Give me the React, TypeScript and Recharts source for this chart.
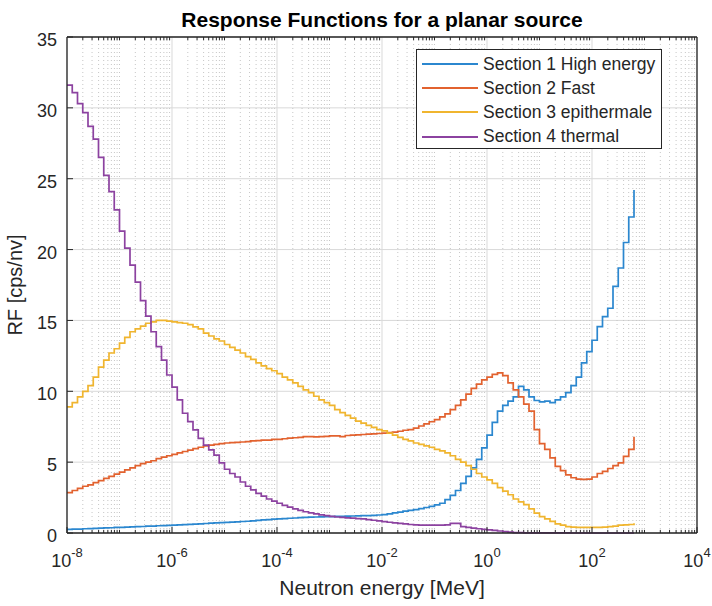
import React from 'react';
import { LineChart, Line, XAxis, YAxis, CartesianGrid, ReferenceLine, Legend } from 'recharts';

// Bin edges: regular log grid starting at 1e-8 MeV, 10 bins per decade
const FIRST_EDGE_EXP = -8;
const BINS_PER_DECADE = 10;

const section1HighEnergy = [
  0.25, 0.27, 0.28, 0.3, 0.31, 0.33, 0.34, 0.36, 0.37, 0.39, 0.4, 0.42, 0.43, 0.45, 0.46, 0.48, 0.49, 0.51, 0.52, 0.54,
  0.55, 0.57, 0.59, 0.61, 0.63, 0.65, 0.67, 0.69, 0.71, 0.73, 0.75, 0.77, 0.79, 0.81, 0.83, 0.86, 0.89, 0.92, 0.95, 0.98,
  1.0, 1.02, 1.04, 1.06, 1.08, 1.1, 1.12, 1.13, 1.14, 1.15, 1.16, 1.17, 1.18, 1.19, 1.2, 1.21, 1.22, 1.23, 1.25, 1.27,
  1.3, 1.35, 1.42, 1.48, 1.55, 1.6, 1.65, 1.72, 1.8, 1.88, 1.98, 2.1, 2.35, 2.65, 3.0, 3.5, 4.0, 4.6, 5.2, 6.0,
  6.9, 7.8, 8.6, 9.0, 9.3, 9.6, 10.35, 10.1, 9.6, 9.35, 9.25, 9.3, 9.2, 9.4, 9.6, 9.9, 10.4, 11.0, 12.0, 12.8,
  13.6, 14.56, 15.27, 15.86, 17.4, 18.7, 20.5, 22.3, 24.2,
];

const section2Fast = [
  2.85, 3.0, 3.15, 3.3, 3.4, 3.55, 3.7, 3.85, 4.0, 4.15, 4.3, 4.45, 4.6, 4.75, 4.9, 5.0, 5.1, 5.25, 5.35, 5.45,
  5.55, 5.65, 5.75, 5.85, 5.95, 6.05, 6.15, 6.2, 6.25, 6.3, 6.35, 6.38, 6.4, 6.42, 6.45, 6.5, 6.52, 6.55, 6.55, 6.6,
  6.6, 6.65, 6.7, 6.72, 6.75, 6.8, 6.8, 6.78, 6.8, 6.82, 6.85, 6.85, 6.8, 6.88, 6.9, 6.92, 6.95, 6.98, 7.0, 7.02,
  7.05, 7.08, 7.12, 7.18, 7.25, 7.3, 7.4, 7.55, 7.7, 7.85, 8.0, 8.2, 8.4, 8.7, 9.0, 9.4, 9.8, 10.2, 10.5, 10.8,
  11.0, 11.2, 11.3, 11.1, 10.6, 10.1, 9.6, 9.1, 8.6, 7.3, 6.3, 5.9, 5.3, 4.7, 4.4, 4.1, 3.9, 3.8, 3.78, 3.8,
  3.95, 4.2, 4.35, 4.55, 4.75, 4.95, 5.4, 5.9, 6.8,
];

const section3Epithermale = [
  8.9, 9.2, 9.6, 10.0, 10.4, 11.0, 11.7, 12.2, 12.7, 13.0, 13.4, 13.8, 14.2, 14.4, 14.6, 14.8, 14.9, 15.0, 15.0, 14.95,
  14.9, 14.85, 14.8, 14.7, 14.55, 14.4, 14.1, 13.9, 13.7, 13.55, 13.3, 13.1, 12.9, 12.7, 12.45, 12.25, 12.0, 11.8, 11.6, 11.45,
  11.25, 11.0, 10.8, 10.6, 10.35, 10.1, 9.9, 9.65, 9.4, 9.2, 9.0, 8.7, 8.5, 8.3, 8.1, 7.9, 7.75, 7.6, 7.45, 7.3,
  7.2, 7.05, 6.9, 6.75, 6.6, 6.5, 6.35, 6.25, 6.15, 6.05, 5.9, 5.8, 5.65, 5.45, 5.2, 5.0, 4.75, 4.5, 4.2, 3.95,
  3.75, 3.5, 3.2, 2.95, 2.7, 2.4, 2.2, 2.0, 1.7, 1.4, 1.15, 1.0, 0.82, 0.65, 0.55, 0.45, 0.42, 0.4, 0.4, 0.4,
  0.4, 0.4, 0.42, 0.45, 0.48, 0.55, 0.58, 0.6, 0.68,
];

const section4Thermal = [
  31.6, 31.07, 30.3, 29.66, 28.7, 27.8, 26.5, 25.24, 24.09, 22.8, 21.3, 20.1, 18.9, 17.7, 16.4, 15.3, 14.2, 13.15, 12.2, 11.15,
  10.3, 9.4, 8.45, 7.86, 7.27, 6.68, 6.2, 5.86, 5.5, 4.95, 4.5, 4.2, 3.95, 3.6, 3.3, 3.05, 2.8, 2.6, 2.4, 2.25,
  2.1, 1.95, 1.82, 1.7, 1.6, 1.5, 1.42, 1.35, 1.28, 1.22, 1.17, 1.13, 1.1, 1.07, 1.05, 1.02, 0.99, 0.95, 0.9, 0.85,
  0.8, 0.76, 0.72, 0.68, 0.64, 0.6, 0.57, 0.56, 0.56, 0.56, 0.56, 0.56, 0.57, 0.68, 0.68, 0.45, 0.4, 0.35, 0.3, 0.26,
  0.22, 0.18, 0.14, 0.1, 0.06, 0.03, 0.02, 0.01, 0.01, 0.01, 0.01, 0.01, 0.01, 0.01, 0.01, 0.01, 0, 0, 0, 0,
  0, 0, 0, 0, 0, 0, 0, 0, 0,
];

const seriesNames = ['Section 1 High energy', 'Section 2 Fast', 'Section 3 epithermale', 'Section 4 thermal'];
const seriesColors = ['#2b87cf', '#e2622f', '#f0b52f', '#8c42a0'];

const xMajorTicks = [1e-8, 1e-6, 1e-4, 1e-2, 1e0, 1e2, 1e4];
const yTicks = [0, 5, 10, 15, 20, 25, 30, 35];
const X_DOMAIN = [1e-8, 1e4];
const Y_DOMAIN = [0, 35];

const energyEdges = section1HighEnergy.map((_, k) => Math.pow(10, FIRST_EDGE_EXP + k / BINS_PER_DECADE));

const rows = energyEdges.map((e, k) => ({
  e,
  s1: section1HighEnergy[k],
  s2: section2Fast[k],
  s3: section3Epithermale[k],
  s4: section4Thermal[k],
}));

// minor log grid positions (2..9 x 10^d and odd decades)
const minorGrid: number[] = [];
for (let d = -8; d < 4; d++) {
  for (let m = 1; m <= 9; m++) {
    if (m === 1 && Math.abs(d % 2) === 0) continue;
    minorGrid.push(m * Math.pow(10, d));
  }
}

const FONT = '"Liberation Sans", Arial, Helvetica, sans-serif';
const AXIS = '#262626';

const XTick = (props: any) => {
  const { x, y, payload } = props;
  const exp = Math.round(Math.log10(payload.value));
  return (
    <text x={x} y={y + 34} textAnchor="middle" fill={AXIS} fontFamily={FONT} fontSize={18}>
      <tspan>10</tspan>
      <tspan dy={-10} fontSize={13}>{exp}</tspan>
    </text>
  );
};

const YTick = (props: any) => {
  const { x, y, payload } = props;
  return (
    <text x={x} y={y + 9} textAnchor="end" fill={AXIS} fontFamily={FONT} fontSize={18}>
      {payload.value}
    </text>
  );
};

const LegendBox = (props: any) => {
  const payload = props.payload || [];
  return (
    <div
      style={{
        width: 246,
        height: 100,
        boxSizing: 'border-box',
        border: `1px solid ${AXIS}`,
        background: '#ffffff',
        paddingTop: 2,
        fontFamily: FONT,
      }}
    >
      {payload.map((p: any) => (
        <div key={p.value} style={{ display: 'flex', alignItems: 'center', height: 24.2 }}>
          <div style={{ marginLeft: 5, width: 56, borderTop: `2px solid ${p.color}` }} />
          <span style={{ marginLeft: 5, fontSize: 17.5, color: AXIS, whiteSpace: 'nowrap' }}>{p.value}</span>
        </div>
      ))}
    </div>
  );
};

export default function App() {
  const keys = ['s1', 's2', 's3', 's4'];
  return (
    <div style={{ position: 'absolute', left: 0, top: 0, width: 712, height: 606, background: '#fff', fontFamily: FONT }}>
      <LineChart width={712} height={606} data={rows} margin={{ top: 36, right: 14, bottom: 33, left: 17 }}>
        <XAxis
          xAxisId="main"
          dataKey="e"
          type="number"
          scale="log"
          domain={X_DOMAIN}
          allowDataOverflow
          ticks={xMajorTicks}
          interval={0}
          height={40}
          tickSize={-6}
          tickMargin={6}
          tick={<XTick />}
          axisLine={{ stroke: AXIS, strokeWidth: 1.3 }}
          tickLine={{ stroke: AXIS, strokeWidth: 1 }}
        />
        <XAxis
          xAxisId="top"
          orientation="top"
          type="number"
          scale="log"
          domain={X_DOMAIN}
          allowDataOverflow
          ticks={xMajorTicks}
          interval={0}
          height={1}
          tickSize={-6}
          tick={false}
          axisLine={{ stroke: AXIS, strokeWidth: 1.3 }}
          tickLine={{ stroke: AXIS, strokeWidth: 1 }}
        />
        <YAxis
          yAxisId="left"
          type="number"
          domain={Y_DOMAIN}
          ticks={yTicks}
          interval={0}
          width={50}
          tickSize={-6}
          tickMargin={16}
          tick={<YTick />}
          axisLine={{ stroke: AXIS, strokeWidth: 1.3 }}
          tickLine={{ stroke: AXIS, strokeWidth: 1 }}
        />
        <YAxis
          yAxisId="right"
          orientation="right"
          type="number"
          domain={Y_DOMAIN}
          ticks={yTicks}
          interval={0}
          width={1}
          tickSize={-6}
          tick={false}
          axisLine={{ stroke: AXIS, strokeWidth: 1.3 }}
          tickLine={{ stroke: AXIS, strokeWidth: 1 }}
        />
        <CartesianGrid xAxisId="main" yAxisId="left" stroke="#d9d9d9" strokeWidth={1} />
        {minorGrid.map((v) => (
          <ReferenceLine
            key={`g${v}`}
            xAxisId="main"
            yAxisId="left"
            x={v}
            stroke="#c6c6c6"
            strokeWidth={1}
            strokeDasharray="1 3"
          />
        ))}
        {minorGrid.map((v) => (
          <ReferenceLine
            key={`tb${v}`}
            xAxisId="main"
            yAxisId="left"
            segment={[{ x: v, y: 0 }, { x: v, y: 0.22 }]}
            stroke={AXIS}
            strokeWidth={1}
          />
        ))}
        {minorGrid.map((v) => (
          <ReferenceLine
            key={`tt${v}`}
            xAxisId="main"
            yAxisId="left"
            segment={[{ x: v, y: 35 }, { x: v, y: 34.78 }]}
            stroke={AXIS}
            strokeWidth={1}
          />
        ))}
        {keys.map((k, i) => (
          <Line
            key={k}
            xAxisId="main"
            yAxisId="left"
            type="stepAfter"
            dataKey={k}
            name={seriesNames[i]}
            stroke={seriesColors[i]}
            strokeWidth={1.7}
            dot={false}
            activeDot={false}
            isAnimationActive={false}
          />
        ))}
        <Legend
          layout="vertical"
          align="center"
          verticalAlign="middle"
          content={<LegendBox />}
          wrapperStyle={{ position: 'absolute', left: 416, top: 49, width: 246, height: 100 }}
        />
      </LineChart>
      <div
        style={{
          position: 'absolute',
          left: 67,
          width: 630,
          top: 8,
          textAlign: 'center',
          fontSize: 21,
          lineHeight: '23px',
          fontWeight: 'bold',
          color: '#000',
          whiteSpace: 'nowrap',
        }}
      >
        Response Functions for a planar source
      </div>
      <div
        style={{
          position: 'absolute',
          left: 67,
          width: 630,
          top: 576,
          textAlign: 'center',
          fontSize: 21,
          lineHeight: '23px',
          color: AXIS,
          whiteSpace: 'nowrap',
        }}
      >
        Neutron energy [MeV]
      </div>
      <div
        style={{
          position: 'absolute',
          left: 15,
          top: 285,
          transform: 'translate(-50%, -50%) rotate(-90deg)',
          fontSize: 20,
          lineHeight: '22px',
          color: AXIS,
          whiteSpace: 'nowrap',
        }}
      >
        RF [cps/nv]
      </div>
    </div>
  );
}
